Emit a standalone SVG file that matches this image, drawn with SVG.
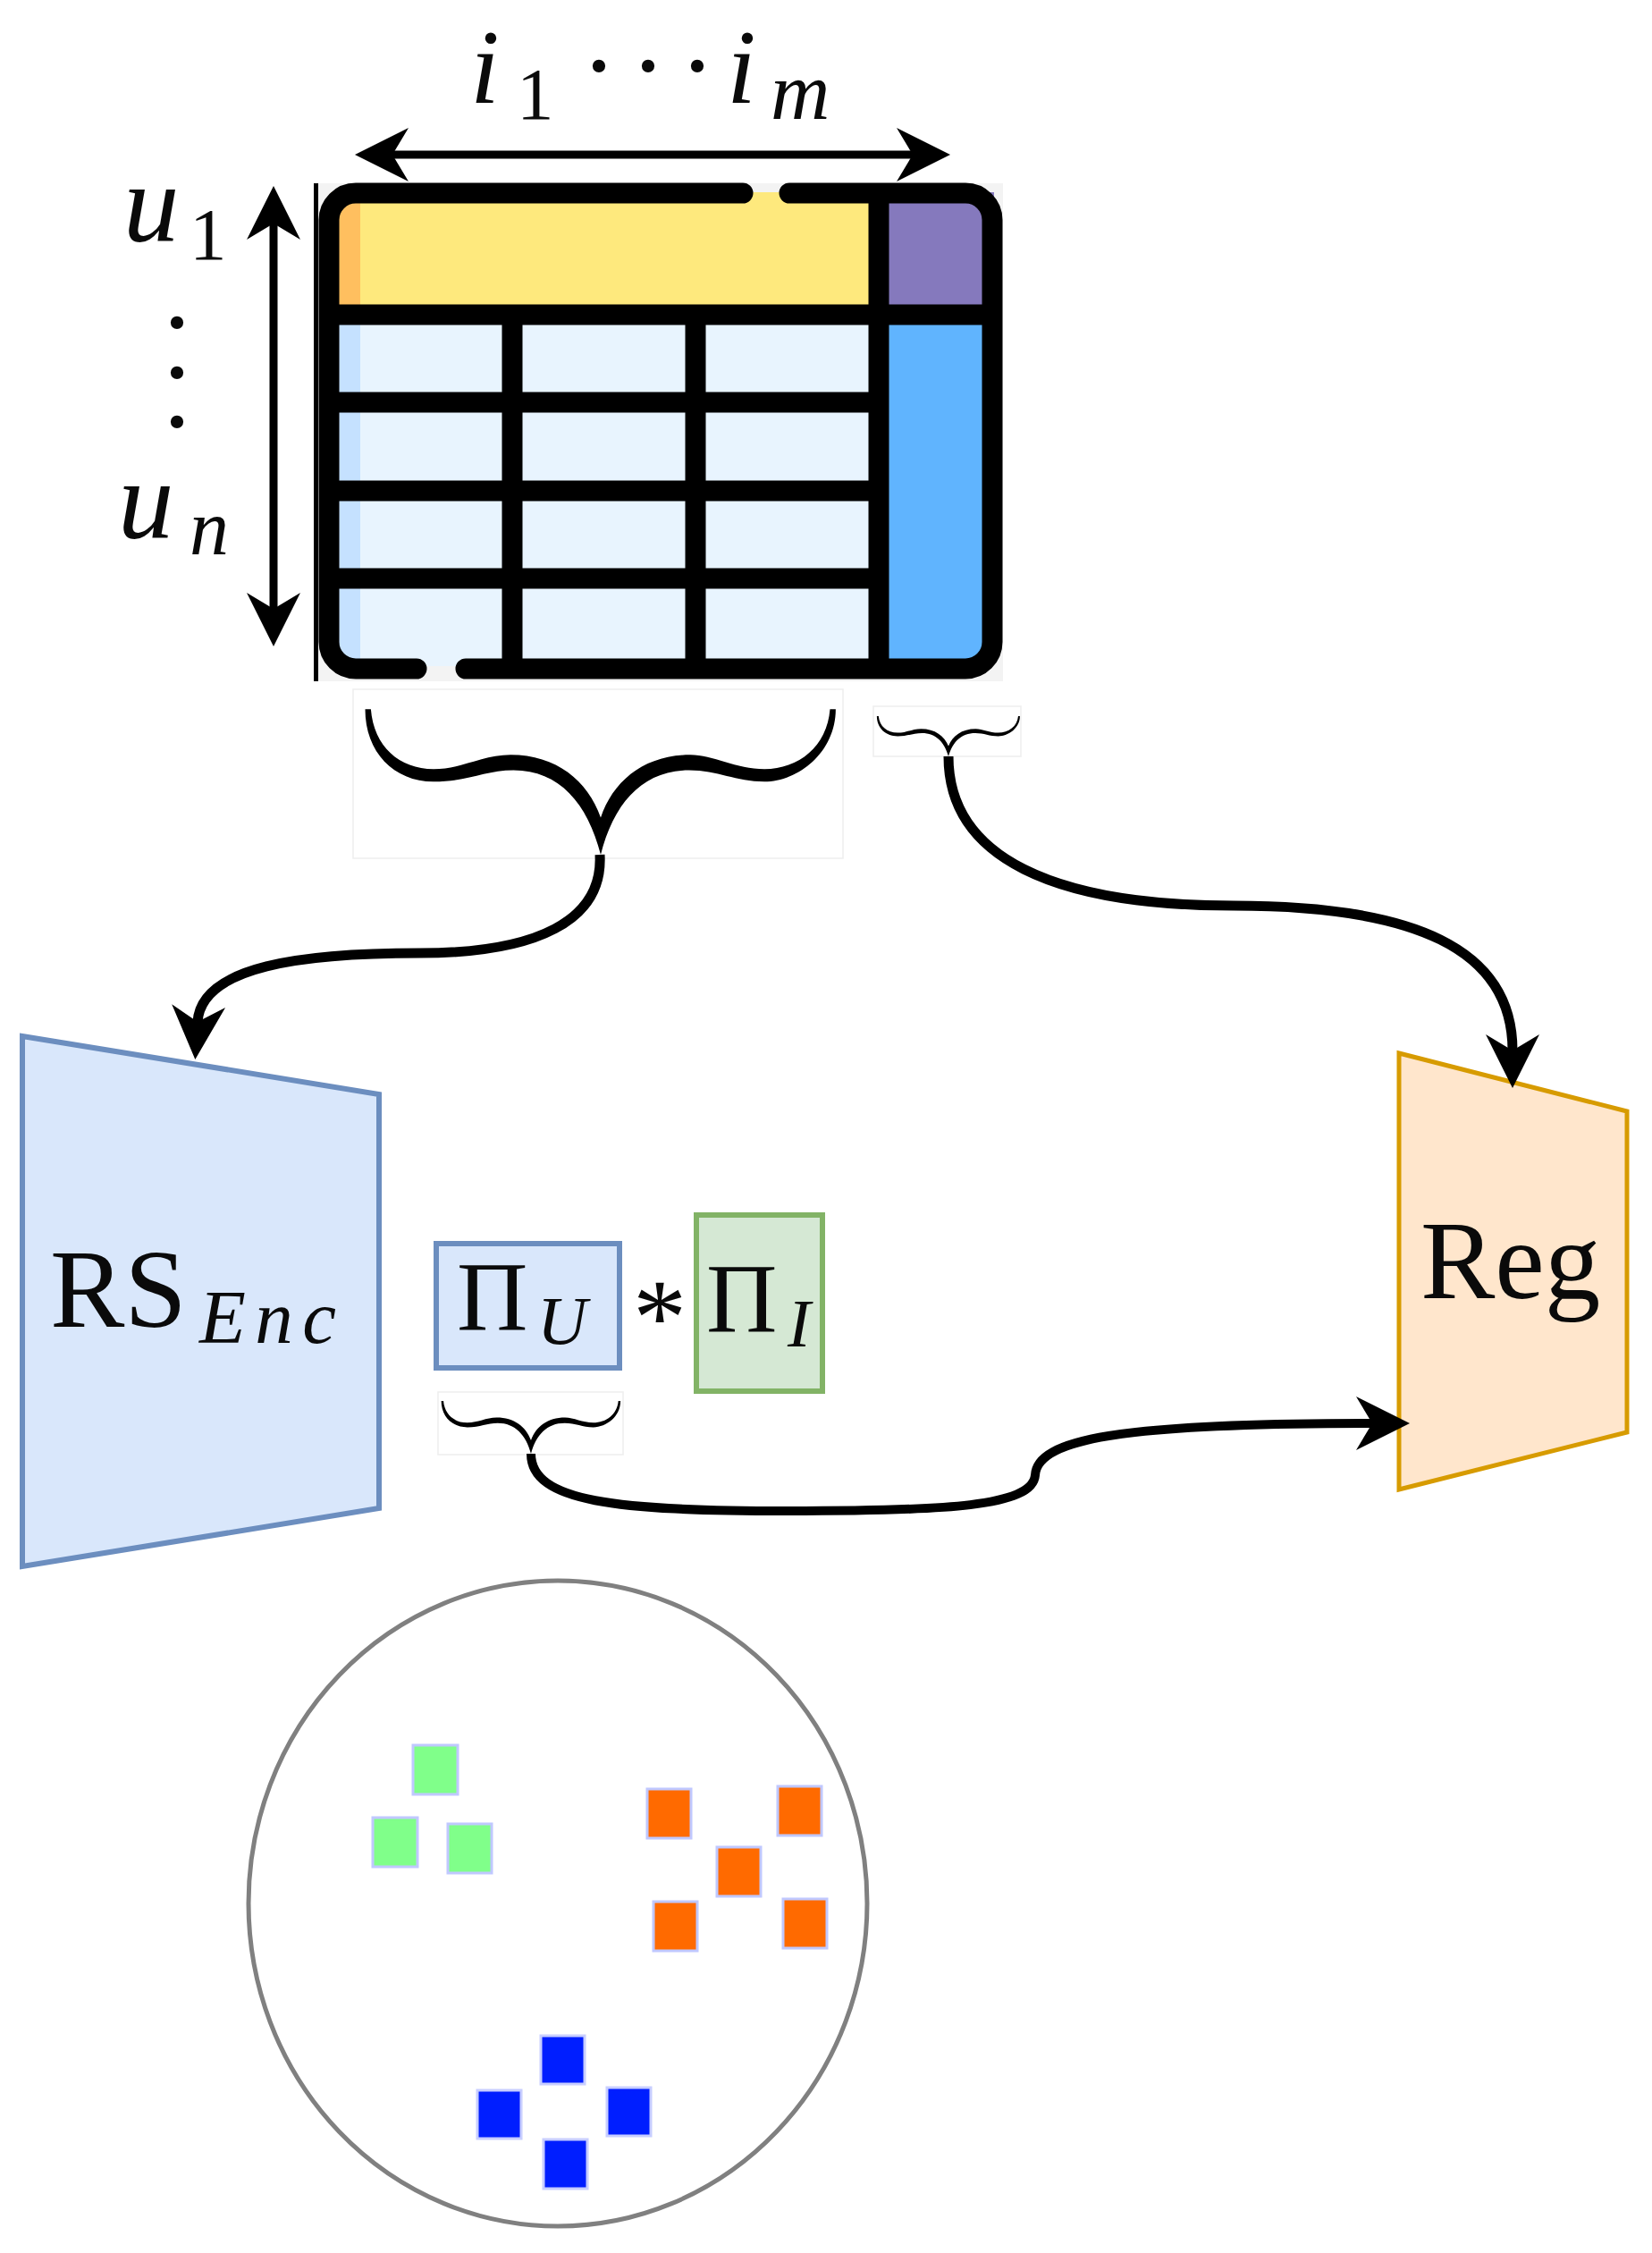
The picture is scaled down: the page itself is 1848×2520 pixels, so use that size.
<svg xmlns="http://www.w3.org/2000/svg" width="1848" height="2520" viewBox="0 0 1848 2520">
<style>
text{font-family:"Liberation Serif","Times New Roman",serif;fill:#0a0a0a}
.it{font-style:italic}
.cell{fill:#E8F4FE}
.stripe{fill:#C5E1FF}
.frame{fill:none;stroke:#000;stroke-width:23;stroke-linecap:round}
.grid{stroke:#000;stroke-width:23;fill:none}
.conn{fill:none;stroke:#000;stroke-width:11}
.faint{fill:#fff;stroke:#eeeeee;stroke-width:1.5}
.g{fill:#80FF8A;stroke:#C0C8FF;stroke-width:3}
.o{fill:#FF6A00;stroke:#C0C8FF;stroke-width:3}
.b{fill:#001EFF;stroke:#C8CEFF;stroke-width:3}
</style>
<defs>
<marker id="head" markerUnits="userSpaceOnUse" markerWidth="70" markerHeight="70" refX="18" refY="30" orient="auto-start-reverse" overflow="visible"><path d="M0 0L60 30L0 60L18 30Z" fill="#000"/></marker>
<path id="brace" d="M-413 -255C-413 -180 -363 -128 -293 -128C-233 -128 -203 -148 -153 -148C-73 -148 -23 -90 0 0C23 -90 73 -148 155 -148C205 -148 237 -128 287 -128C347 -128 412 -180 412 -255L402 -255C397 -190 347 -150 287 -150C237 -150 197 -175 157 -175C77 -175 22 -130 0 -65C-23 -130 -78 -175 -158 -175C-208 -175 -243 -150 -293 -150C-353 -150 -398 -190 -403 -255Z" fill="#000"/>
</defs>
<rect width="1848" height="2520" fill="#fff"/>

<g id="matrix">
<rect x="353" y="205" width="769" height="557" fill="#f3f3f3"/>
<rect x="370" y="215" width="602" height="126" fill="#FEE97D"/>
<rect x="370" y="215" width="33" height="126" fill="#FFBF5F"/>
<rect x="972" y="215" width="140" height="126" fill="#8579BD"/>
<rect x="972" y="341" width="140" height="400" fill="#60B4FE"/>
<rect x="370" y="352" width="602" height="393" class="cell"/>
<rect x="370" y="352" width="33" height="393" class="stripe"/>
<path class="frame" d="M831 216H398A30 30 0 0 0 368 246V718A30 30 0 0 0 398 748H466"/>
<path class="frame" d="M883 216H1080A30 30 0 0 1 1110 246V718A30 30 0 0 1 1080 748H521"/>
<path class="grid" d="M368 352H1110M368 450H983M368 549H983M368 647H983M573 352V748M778 352V748M983 216V748"/>
<rect x="1122" y="200" width="8" height="566" fill="#fff"/>
<rect x="351" y="205" width="5" height="557" fill="#000"/>
</g>

<g id="items-axis">
<text class="it" font-size="118" x="526" y="115">i</text>
<text font-size="83" x="578" y="133">1</text>
<text font-size="120" x="650 705 760" y="114">···</text>
<text class="it" font-size="118" x="813" y="115">i</text>
<text class="it" font-size="92" x="862" y="133">m</text>
</g>
<g id="users-axis">
<text class="it" font-size="125" x="138" y="270">u</text>
<text font-size="83" x="212" y="290">1</text>
<text font-size="120" x="178" y="401">·</text>
<text font-size="120" x="178" y="457">·</text>
<text font-size="120" x="178" y="512">·</text>
<text class="it" font-size="125" x="132" y="602">u</text>
<text class="it" font-size="88" x="212" y="620">n</text>
</g>

<g id="brace-big">
<rect class="faint" x="395" y="771" width="548" height="189"/>
<use href="#brace" transform="translate(672 956) scale(.638)"/>
</g>
<g id="brace-target">
<rect class="faint" x="977" y="790" width="165" height="56"/>
<use href="#brace" transform="translate(1061 846) scale(.194 .176)"/>
</g>
<g id="brace-pi">
<rect class="faint" x="490" y="1557" width="207" height="70"/>
<use href="#brace" transform="translate(594 1626) scale(.243 .231)"/>
</g>

<g id="rs-enc">
<path d="M25 1159L424 1224V1687L25 1752Z" fill="#D9E7FB" stroke="#6C8EBF" stroke-width="6"/>
<text font-size="125" x="56" y="1484">RS</text>
<text class="it" font-size="85" x="223" y="1502" textLength="153" lengthAdjust="spacing">Enc</text>
</g>
<g id="pi-u">
<rect x="488" y="1391" width="205" height="139" fill="#D9E7FB" stroke="#6C8EBF" stroke-width="6"/>
<text font-size="110" x="511" y="1487">Π</text>
<text class="it" font-size="77" x="601" y="1503">U</text>
</g>
<text id="times" font-size="120" x="708" y="1514">*</text>
<g id="pi-i">
<rect x="779" y="1359" width="141" height="197" fill="#D5E8D4" stroke="#82B366" stroke-width="6"/>
<text font-size="110" x="790" y="1489">Π</text>
<text class="it" font-size="77" x="881" y="1506">I</text>
</g>
<g id="reg">
<path d="M1565 1178L1820 1243V1602L1565 1666Z" fill="#FFE6CC" stroke="#D79B00" stroke-width="5"/>
<text font-size="125" x="1589" y="1452">Reg</text>
</g>

<g id="connectors">
<path class="conn" marker-start="url(#head)" marker-end="url(#head)" stroke-width="9" style="stroke-width:9" d="M439 173H1021"/>
<path class="conn" marker-start="url(#head)" marker-end="url(#head)" style="stroke-width:9" d="M306 250V681"/>
<path class="conn" marker-end="url(#head)" d="M671 956C675 1030 600 1066 470 1066C340 1066 225 1080 221 1143"/>
<path class="conn" marker-end="url(#head)" d="M1061 846C1061 960 1180 1013 1380 1013C1580 1013 1692 1060 1692 1175"/>
<path class="conn" marker-end="url(#head)" style="stroke-width:10" d="M594 1626C594 1680 690 1690 880 1690C1060 1690 1155 1685 1158 1650C1160 1610 1250 1592 1535 1592"/>
</g>

<g id="scatter">
<ellipse cx="624" cy="2129" rx="346" ry="361" fill="none" stroke="#808080" stroke-width="5"/>
<rect class="g" x="462" y="1952" width="50" height="55"/>
<rect class="g" x="417" y="2033" width="50" height="55"/>
<rect class="g" x="501" y="2040" width="49" height="55"/>
<rect class="o" x="724" y="2001" width="49" height="55"/>
<rect class="o" x="870" y="1998" width="49" height="55"/>
<rect class="o" x="802" y="2066" width="49" height="55"/>
<rect class="o" x="731" y="2127" width="49" height="55"/>
<rect class="o" x="876" y="2124" width="49" height="55"/>
<rect class="b" x="605" y="2277" width="49" height="54"/>
<rect class="b" x="534" y="2338" width="49" height="54"/>
<rect class="b" x="679" y="2335" width="49" height="54"/>
<rect class="b" x="608" y="2393" width="49" height="55"/>
</g>
</svg>
